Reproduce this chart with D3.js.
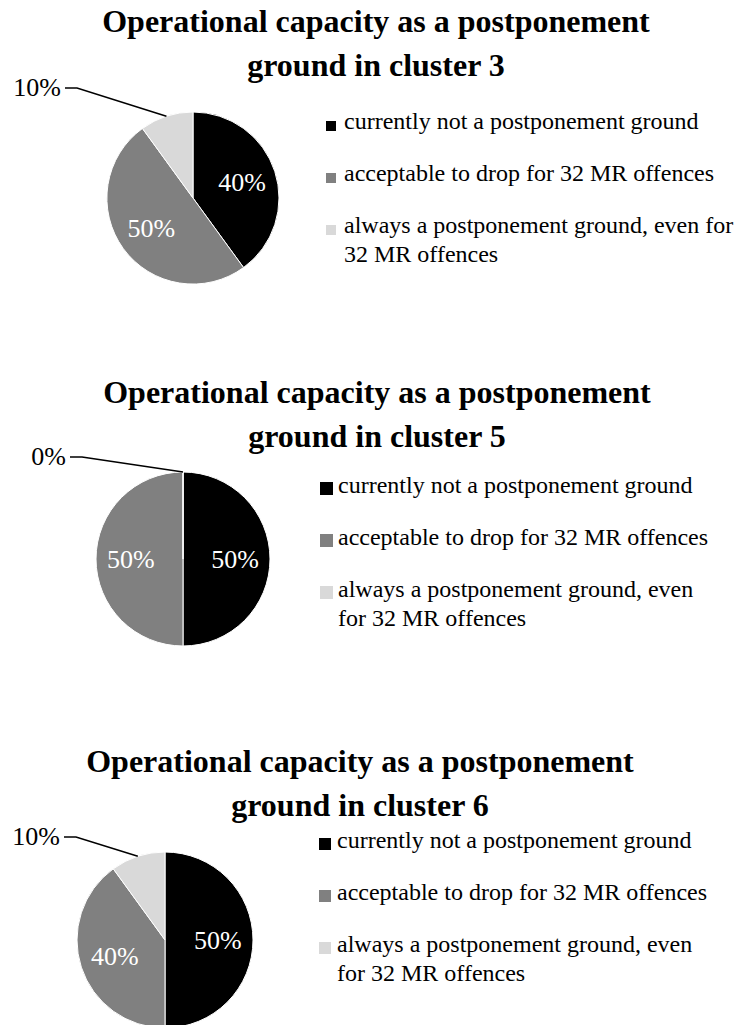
<!DOCTYPE html>
<html lang="en">
<head>
  <meta charset="UTF-8" />
  <script src="https://d3js.org/d3.v7.min.js"></script>
  <title>Operational capacity as a postponement ground</title>
  <style>
    body { margin: 0; background: #fff; }
    text { font-family: "Palatino Linotype", "Book Antiqua", Palatino, "Liberation Serif", serif; }
  </style>
</head>
<body>
  <svg width="734" height="1025"></svg>

  <script>
    const categories = [
      "currently not a postponement ground",
      "acceptable to drop for 32 MR offences",
      "always a postponement ground, even for 32 MR offences"
    ];
    const titles = [
      ["Operational capacity as a postponement", "ground in cluster 3"],
      ["Operational capacity as a postponement", "ground in cluster 5"],
      ["Operational capacity as a postponement", "ground in cluster 6"]
    ];
    const cluster3 = [40, 50, 10];
    const cluster5 = [50, 50, 0];
    const cluster6 = [50, 40, 10];
    const colors = ["#000000", "#808080", "#d9d9d9"];

    // layout of each panel
    const panels = [
      { values: cluster3, title: titles[0], titleX: 376, titleY: 32, cx: 193, cy: 198, r: 86,
        legendX: 326, legendY: 129, legendW: 420, sw: 10, outLabel: [-132, -110] },
      { values: cluster5, title: titles[1], titleX: 377, titleY: 403, cx: 183, cy: 559, r: 87,
        legendX: 320, legendY: 493, legendW: 398, sw: 13, outLabel: [-117, -102] },
      { values: cluster6, title: titles[2], titleX: 360, titleY: 772, cx: 165, cy: 940, r: 88,
        legendX: 319, legendY: 848, legendW: 398, sw: 12, outLabel: [-105, -103] }
    ];

    const svg = d3.select("svg");
    const color = d3.scaleOrdinal().domain(categories).range(colors);
    const pie = d3.pie().sort(null).value(d => d.value);

    panels.forEach(p => {
      const data = categories.map((c, i) => ({ name: c, value: p.values[i] }));
      const arcs = pie(data);

      // title
      const t = svg.append("text")
        .attr("x", p.titleX)
        .attr("y", p.titleY)
        .attr("text-anchor", "middle")
        .attr("font-size", 32)
        .attr("font-weight", "bold")
        .attr("fill", "#000");
      p.title.forEach((line, i) => {
        t.append("tspan").attr("x", p.titleX).attr("dy", i === 0 ? 0 : 44).text(line);
      });

      const g = svg.append("g").attr("transform", `translate(${p.cx},${p.cy})`);
      const arc = d3.arc().innerRadius(0).outerRadius(p.r);
      const labelArc = d3.arc().innerRadius(p.r * 0.6).outerRadius(p.r * 0.6);

      g.selectAll("path")
        .data(arcs)
        .enter()
        .append("path")
        .attr("d", arc)
        .attr("fill", d => color(d.data.name))
        .attr("stroke", "#fff")
        .attr("stroke-width", 1);

      // big slices: label inside
      g.selectAll("text.in")
        .data(arcs.filter(d => d.data.value >= 20))
        .enter()
        .append("text")
        .attr("class", "in")
        .attr("transform", d => `translate(${labelArc.centroid(d)})`)
        .attr("text-anchor", "middle")
        .attr("dy", "0.35em")
        .attr("font-size", 26)
        .attr("fill", "#fff")
        .text(d => d.data.value + "%");

      // small slices: label outside with leader line
      arcs.filter(d => d.data.value < 20).forEach(d => {
        const a = (d.startAngle + d.endAngle) / 2;
        const ex = p.r * Math.sin(a);
        const ey = -p.r * Math.cos(a);
        const [lx, ly] = p.outLabel;
        g.append("polyline")
          .attr("points", `${lx + 4},${ly} ${lx + 16},${ly} ${ex},${ey}`)
          .attr("fill", "none")
          .attr("stroke", "#000")
          .attr("stroke-width", 1.5);
        g.append("text")
          .attr("x", lx)
          .attr("y", ly)
          .attr("dy", "0.3em")
          .attr("text-anchor", "end")
          .attr("font-size", 26)
          .attr("fill", "#000")
          .text(d.data.value + "%");
      });

      // legend
      const leg = svg.append("g").attr("transform", `translate(${p.legendX},${p.legendY})`);
      categories.forEach((c, i) => {
        const row = leg.append("g").attr("transform", `translate(0,${i * 52})`);
        row.append("rect")
          .attr("x", 0)
          .attr("y", 2 - p.sw)
          .attr("width", p.sw)
          .attr("height", p.sw)
          .attr("fill", colors[i]);
        const txt = row.append("text")
          .attr("x", 18)
          .attr("y", 0)
          .attr("font-size", 24)
          .attr("fill", "#000");
        // wrap words to legend width
        const words = c.split(" ");
        let line = [];
        let tspan = txt.append("tspan").attr("x", 18).attr("dy", 0);
        words.forEach(w => {
          line.push(w);
          tspan.text(line.join(" "));
          if (tspan.node().getComputedTextLength() > p.legendW - 18 && line.length > 1) {
            line.pop();
            tspan.text(line.join(" "));
            line = [w];
            tspan = txt.append("tspan").attr("x", 18).attr("dy", 29).text(w);
          }
        });
      });
    });
  </script>
</body>
</html>
